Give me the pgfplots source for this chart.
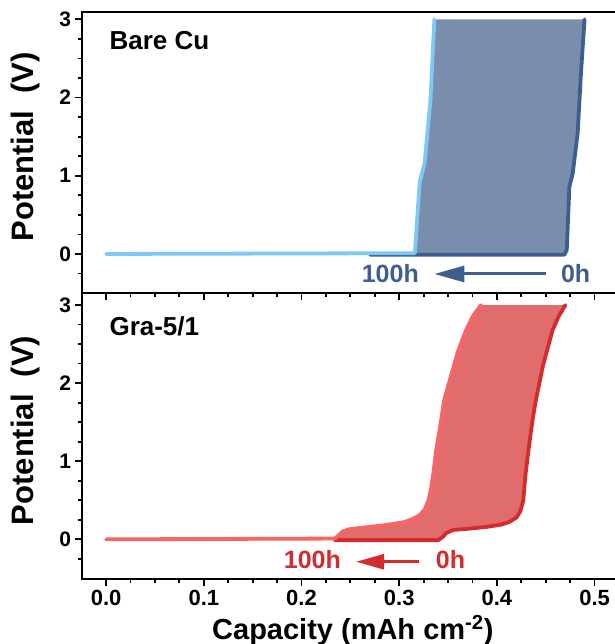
\documentclass[border=0pt]{standalone}
\usepackage{pgfplots}
\pgfplotsset{compat=1.18}
\usepackage{fontspec}
\setmainfont{Liberation Sans}
\usetikzlibrary{arrows.meta}
\definecolor{lblue}{RGB}{125,200,245}
\definecolor{dblue}{RGB}{62,94,142}
\definecolor{bfill}{RGB}{122,141,173}
\definecolor{lred}{RGB}{246,102,102}
\definecolor{dred}{RGB}{212,44,44}
\definecolor{rfill}{RGB}{225,108,108}
\newcommand{\tl}{\fontsize{22}{22}\selectfont\bfseries}
\pgfplotsset{myax/.style={
  scale only axis, width=542.2pt, xmin=-0.025, xmax=0.53,
  axis line style={line width=2pt},
  every tick/.style={line width=1.8pt, black},
  major tick length=7pt, minor tick length=4pt,
  tick align=outside, xtick pos=bottom, ytick pos=left,
  xtick={0,0.1,0.2,0.3,0.4,0.5},
  minor xtick={0.025,0.05,0.075,0.125,0.15,0.175,0.225,0.25,0.275,0.325,0.35,0.375,0.425,0.45,0.475,0.525},
  ytick={0,1,2,3},
  minor ytick={-0.25,0.25,0.5,0.75,1.25,1.5,1.75,2.25,2.5,2.75},
  /pgf/number format/assume math mode=true,
  yticklabel style={font=\fontsize{21}{21}\selectfont\bfseries},
  xticklabel style={font=\tl, yshift=-1pt},
  ylabel={Potential\ \ (V)},
  every axis y label/.style={at={(axis description cs:-0.0897,0.52)}, rotate=90, anchor=base,
     font=\fontsize{31}{31}\selectfont\bfseries},
  every axis x label/.style={at={(axis description cs:0.5,-0.21)}, anchor=base,
     font=\fontsize{29}{29}\selectfont\bfseries},
  clip=true,
}}
\begin{document}
\begin{tikzpicture}
% ---- top panel: Bare Cu ----
\begin{axis}[myax, at={(81.7pt,-11.7pt)}, anchor=north west,
  height=281.6pt, ymin=-0.503, ymax=3.098, xticklabels={}]
\addplot[fill=bfill, draw=none] coordinates {
 (0.316,0.0) (0.321,0.92) (0.326,1.16) (0.332,1.97) (0.336,3.0)
 (0.4897,3.0) (0.4860,2.3) (0.4827,1.55) (0.4776,1.03) (0.4742,0.86) (0.4715,0.05) (0.469,0.0)};
\addplot[dblue, line width=3.8pt, line cap=round, line join=round] coordinates {
 (0.27,-0.01) (0.469,-0.01) (0.4715,0.05) (0.4742,0.86) (0.4776,1.03) (0.4827,1.55) (0.4860,2.3) (0.4897,3.0)};
\addplot[lblue, line width=3.8pt, line cap=round, line join=round] coordinates {
 (0,0.0) (0.316,0.01) (0.321,0.92) (0.326,1.16) (0.332,1.97) (0.336,3.0)};
\node[anchor=base west, font=\fontsize{26}{26}\selectfont\bfseries] at (axis description cs:0.0448,0.864) {Bare Cu};
\draw[dblue, line width=3pt, -{Triangle[length=30pt,width=16pt]}] (axis cs:0.4503,-0.256) -- (axis cs:0.336,-0.256);
\node[anchor=base east, text=dblue, font=\fontsize{25}{25}\selectfont\bfseries] at (axis cs:0.3237,-0.367) {100h};
\node[anchor=base west, text=dblue, font=\fontsize{25}{25}\selectfont\bfseries] at (axis cs:0.462,-0.367) {0h};
\end{axis}
% ---- bottom panel: Gra-5/1 ----
\begin{axis}[myax, at={(81.7pt,-293.3pt)}, anchor=north west,
  height=285.7pt, ymin=-0.508, ymax=3.15,
  xticklabels={\tl 0.0,\tl 0.1,\tl 0.2,\tl 0.3,\tl 0.4,\tl 0.5},
  xlabel={Capacity (mAh cm\textsuperscript{-2})}]
\addplot[fill=rfill, draw=none] coordinates {
 (0.234,0) (0.238,0.05) (0.242,0.1) (0.249,0.13) (0.27,0.16) (0.2866,0.183) (0.305,0.22)
 (0.3138,0.26) (0.321,0.31) (0.326,0.38) (0.33,0.5) (0.3326,0.65) (0.335,0.85) (0.3378,1.14)
 (0.342,1.45) (0.346,1.78) (0.3548,2.17) (0.36,2.4) (0.3685,2.68) (0.376,2.87) (0.3838,3.0)
 (0.4701,3.0) (0.463,2.85) (0.457,2.68) (0.452,2.45) (0.4469,2.21) (0.441,1.85) (0.4384,1.68)
 (0.435,1.4) (0.4315,1.06) (0.429,0.8) (0.427,0.5) (0.424,0.36) (0.42,0.28) (0.413,0.225)
 (0.405,0.19) (0.39,0.16) (0.37,0.135) (0.355,0.12) (0.348,0.08) (0.3445,0.03) (0.34,0.0)};
\addplot[dred, line width=3.8pt, line cap=round, line join=round] coordinates {
 (0.234,-0.01) (0.34,-0.01) (0.3445,0.03) (0.348,0.08) (0.355,0.12) (0.37,0.135) (0.39,0.16)
 (0.405,0.19) (0.413,0.225) (0.42,0.28) (0.424,0.36) (0.427,0.5) (0.429,0.8) (0.4315,1.06)
 (0.435,1.4) (0.4384,1.68) (0.441,1.85) (0.4469,2.21) (0.452,2.45) (0.457,2.68) (0.463,2.85) (0.4701,3.0)};
\addplot[lred, line width=3.8pt, line cap=round, line join=round] coordinates {
 (0,0) (0.234,0.01) (0.238,0.05) (0.242,0.1) (0.249,0.13) (0.27,0.16) (0.2866,0.183) (0.305,0.22)
 (0.3138,0.26) (0.321,0.31) (0.326,0.38) (0.33,0.5) (0.3326,0.65) (0.335,0.85) (0.3378,1.14)
 (0.342,1.45) (0.346,1.78) (0.3548,2.17) (0.36,2.4) (0.3685,2.68) (0.376,2.87) (0.3838,3.0)};
\node[anchor=base west, font=\fontsize{26}{26}\selectfont\bfseries] at (axis description cs:0.0448,0.854) {Gra-5/1};
\draw[dred, line width=3pt, -{Triangle[length=28pt,width=15pt]}] (axis cs:0.3207,-0.287) -- (axis cs:0.2559,-0.287);
\node[anchor=base east, text=dred, font=\fontsize{25}{25}\selectfont\bfseries] at (axis cs:0.2439,-0.371) {100h};
\node[anchor=base west, text=dred, font=\fontsize{25}{25}\selectfont\bfseries] at (axis cs:0.334,-0.371) {0h};
\end{axis}
\pgfresetboundingbox
\useasboundingbox (0,0) rectangle (614pt,-644pt);
\end{tikzpicture}
\end{document}
